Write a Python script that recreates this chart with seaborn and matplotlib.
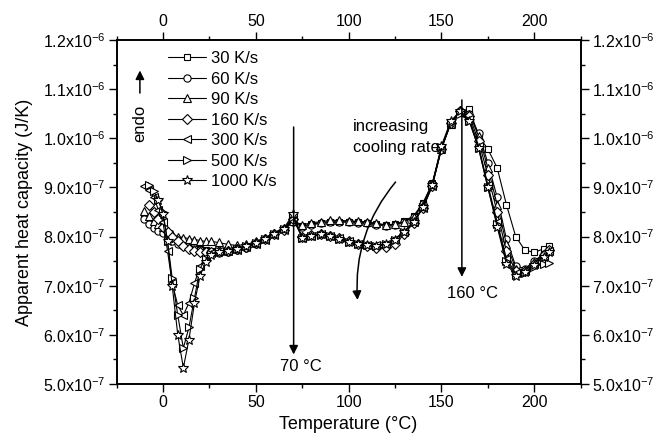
import numpy as np
import pandas as pd
import matplotlib.pyplot as plt
import seaborn as sns
from matplotlib.ticker import MultipleLocator, FuncFormatter

nan = np.nan

# temperature grid (°C) and apparent heat capacity in units of 1e-7 J/K
temperature = [-10, -7.5, -5, -2.5, 0, 2.5, 5, 8, 11, 14, 17, 20, 23, 26,
               30, 35, 40, 45, 50, 55, 60, 65, 70, 75, 80, 85, 90, 95, 100,
               105, 110, 115, 120, 125, 130, 135, 140, 145, 150, 155, 160,
               165, 170, 175, 180, 185, 190, 195, 200, 205, 208]

cp_30 = [8.42, 8.30, 8.22, 8.15, 8.10, 8.05, 7.98, 7.92, 7.87, 7.82, 7.78, 7.75, 7.72, 7.70,
         7.70, 7.70, 7.74, 7.78, 7.86, 7.96, 8.06, 8.16, 8.32, 8.22, 8.25, 8.28, 8.30, 8.30, 8.30,
         8.30, 8.28, 8.26, 8.23, 8.25, 8.32, 8.42, 8.68, 9.08, 9.80, 10.30, 10.52,
         10.60, 10.05, 9.78, 9.40, 8.65, 8.00, 7.72, 7.68, 7.75, 7.80]
cp_60 = [8.35, 8.25, 8.18, 8.12, 8.08, 8.00, 7.92, 7.85, 7.80, 7.77, 7.75, 7.72, 7.70, 7.68,
         7.67, 7.68, 7.72, 7.77, 7.85, 7.95, 8.05, 8.15, 8.30, 8.20, 8.24, 8.27, 8.29, 8.30, 8.29,
         8.28, 8.27, 8.24, 8.22, 8.24, 8.30, 8.40, 8.66, 9.06, 9.80, 10.32, 10.55,
         10.50, 10.10, 9.50, 8.80, 7.95, 7.40, 7.35, 7.50, 7.65, 7.72]
cp_90 = [8.52, 8.42, 8.32, 8.25, 8.20, 8.12, 8.05, 8.00, 7.98, 7.96, 7.94, 7.92, 7.90, 7.90,
         7.88, 7.84, 7.82, 7.84, 7.90, 7.98, 8.08, 8.18, 8.32, 8.24, 8.28, 8.30, 8.33, 8.33, 8.32,
         8.31, 8.30, 8.27, 8.24, 8.25, 8.30, 8.40, 8.64, 9.05, 9.78, 10.30, 10.55,
         10.50, 10.05, 9.40, 8.65, 7.85, 7.35, 7.32, 7.48, 7.65, 7.72]
cp_160 = [nan, 8.65, 8.50, 8.35, 8.20, 8.10, 8.00, 7.90, 7.80, 7.75, 7.70, 7.68, 7.68, 7.68,
          7.70, 7.70, 7.74, 7.78, 7.86, 7.95, 8.05, 8.14, 8.36, 8.00, 8.03, 8.05, 8.02, 7.98, 7.90,
          7.85, 7.80, 7.76, 7.78, 7.85, 8.05, 8.28, 8.58, 9.02, 9.78, 10.32, 10.55,
          10.45, 9.95, 9.25, 8.50, 7.70, 7.30, 7.30, 7.45, 7.62, 7.72]
cp_300 = [9.03, 8.95, 8.80, 8.55, 8.30, 7.70, 7.05, 6.60, 6.40, 6.65, 7.05, 7.40, 7.58, 7.66,
          7.70, 7.70, 7.73, 7.78, 7.85, 7.94, 8.04, 8.14, 8.40, 7.98, 8.02, 8.05, 8.02, 7.97, 7.90,
          7.85, 7.83, 7.82, 7.85, 7.95, 8.10, 8.30, 8.58, 9.02, 9.80, 10.32, 10.52,
          10.40, 9.85, 9.05, 8.30, 7.55, 7.25, 7.30, 7.45, 7.60, 7.70]
cp_500 = [nan, 9.05, 8.92, 8.75, 8.50, 7.90, 7.15, 6.40, 5.73, 6.15, 6.75, 7.35, 7.55, 7.65,
          7.70, 7.71, 7.74, 7.80, 7.86, 7.95, 8.05, 8.15, 8.40, 7.97, 8.01, 8.04, 8.01, 7.96, 7.88,
          7.84, 7.82, 7.81, 7.84, 7.94, 8.10, 8.30, 8.60, 9.05, 9.82, 10.32, 10.50,
          10.35, 9.80, 9.00, 8.25, 7.50, 7.22, 7.25, 7.38, 7.45, 7.46]
cp_1000 = [nan, nan, nan, 8.75, 8.45, 7.90, 7.00, 6.00, 5.33, 5.90, 6.65, 7.20, 7.48, 7.62,
           7.68, 7.70, 7.74, 7.80, 7.87, 7.96, 8.06, 8.16, 8.45, 7.98, 8.02, 8.05, 8.02, 7.96, 7.88,
           7.84, 7.82, 7.81, 7.84, 7.94, 8.10, 8.30, 8.60, 9.05, 9.85, 10.35, 10.55,
           10.35, 9.80, 9.00, 8.20, 7.45, 7.20, 7.28, 7.42, 7.58, 7.68]

rates = ['30 K/s', '60 K/s', '90 K/s', '160 K/s', '300 K/s', '500 K/s', '1000 K/s']
series = [cp_30, cp_60, cp_90, cp_160, cp_300, cp_500, cp_1000]
markers = ['s', 'o', '^', 'D', '<', '>', '*']
msizes = [5, 5.2, 5.8, 4.6, 5.8, 5.8, 7]

frames = []
for rate, vals in zip(rates, series):
    frames.append(pd.DataFrame({'T': temperature, 'Cp': np.array(vals) * 1e-7, 'rate': rate}))
df = pd.concat(frames).dropna()

sns.set_style("ticks")
plt.rcParams['font.family'] = ['Liberation Sans', 'DejaVu Sans']
plt.rcParams['mathtext.default'] = 'regular'
plt.rcParams['text.color'] = 'black'
plt.rcParams['axes.labelcolor'] = 'black'
plt.rcParams['axes.edgecolor'] = 'black'

fig, ax = plt.subplots(figsize=(6.54, 4.43), dpi=100)
fig.subplots_adjust(left=116.5 / 654, right=580.7 / 654, top=1 - 40 / 443, bottom=1 - 384 / 443)

for rate, mk, ms in zip(rates, markers, msizes):
    sns.lineplot(data=df[df['rate'] == rate], x='T', y='Cp', ax=ax, color='black',
                 lw=0.8, marker=mk, markersize=ms, markerfacecolor='white',
                 markeredgecolor='black', markeredgewidth=0.8, label=rate,
                 estimator=None, sort=False)

ax.set_xlim(-25, 225)
ax.set_ylim(5e-7, 1.2e-6)
ax.xaxis.set_major_locator(MultipleLocator(50))
ax.xaxis.set_minor_locator(MultipleLocator(25))
ax.yaxis.set_major_locator(MultipleLocator(1e-7))
ax.yaxis.set_minor_locator(MultipleLocator(5e-8))


def sci(v, pos):
    e = int(np.floor(np.log10(v) + 1e-9))
    m = v / 10.0 ** e
    return f"{m:.1f}x10$^{{{e}}}$"


ax.yaxis.set_major_formatter(FuncFormatter(sci))
ax.tick_params(which='both', direction='out', top=True, right=True,
               labeltop=True, labelright=True, labelsize=11.5, width=1, colors='black')
ax.tick_params(which='major', length=5.5, pad=2.5)
ax.tick_params(which='minor', length=3)
for sp in ax.spines.values():
    sp.set_linewidth(1.4)

ax.set_xlabel('Temperature (°C)', fontsize=13, labelpad=4)
ax.set_ylabel('Apparent heat capacity (J/K)', fontsize=13, labelpad=7)

ax.legend(loc='upper left', bbox_to_anchor=(0.111, 0.968), frameon=False, fontsize=12,
          handlelength=2.3, handletextpad=0.3, labelspacing=0.33, borderpad=0, borderaxespad=0)

arrow = dict(arrowstyle='-|>', color='black', lw=1.1, mutation_scale=13, shrinkA=0, shrinkB=0)
ax.annotate('', xy=(-12.4, 11.38e-7), xytext=(-12.4, 10.92e-7), arrowprops=arrow)
ax.text(-12.4, 10.31e-7, 'endo', rotation=90, ha='center', va='center', fontsize=12)
ax.annotate('', xy=(70.4, 5.6e-7), xytext=(70.4, 10.23e-7), arrowprops=arrow)
ax.text(74.2, 5.35e-7, '70 °C', ha='center', va='center', fontsize=12)
ax.annotate('', xy=(161, 7.18e-7), xytext=(161, 10.78e-7), arrowprops=arrow)
ax.text(166.7, 6.85e-7, '160 °C', ha='center', va='center', fontsize=12)
ax.text(102.2, 10.03e-7, 'increasing\ncooling rate', ha='left', va='center',
        fontsize=12, linespacing=1.5)
ax.annotate('', xy=(104.8, 6.71e-7), xytext=(125.3, 9.11e-7),
            arrowprops=dict(arrow, connectionstyle='arc3,rad=0.2'))

plt.savefig("out.png", dpi=100)
